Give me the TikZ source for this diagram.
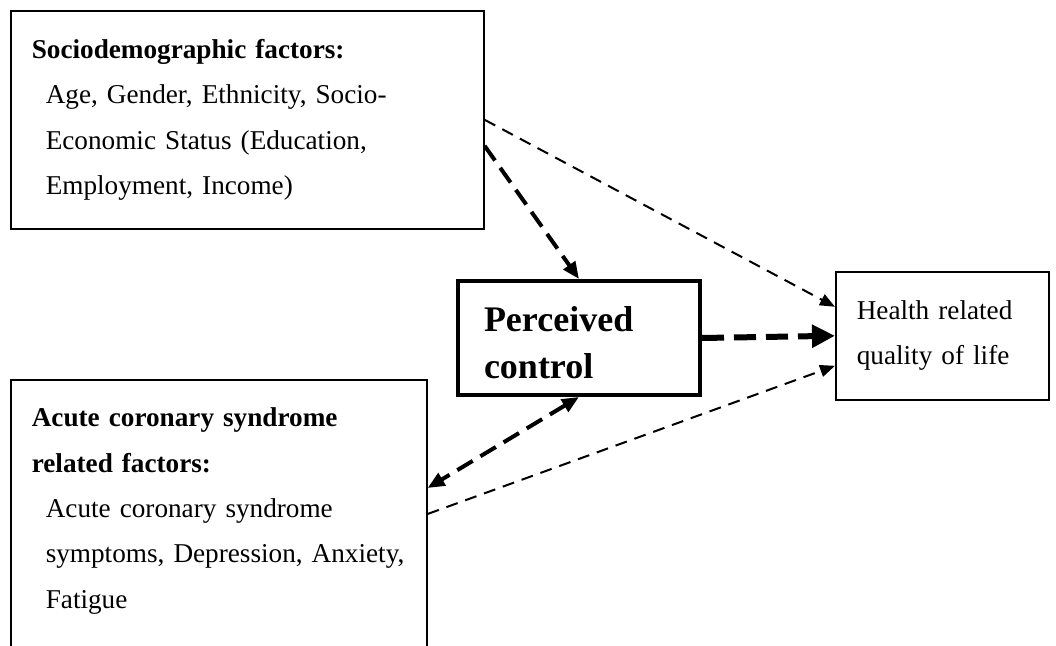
\documentclass[tikz,border=0pt]{standalone}
\usepackage{fontspec}
\setmainfont{Liberation Serif}
\usetikzlibrary{arrows.meta}

\newcommand{\pcline}[1]{\hspace*{7pt}\mbox{#1}}

\tikzset{
  pcbox/.style={draw, line width=.8pt, anchor=north west, align=left, inner xsep=10.5pt,
    font=\fontsize{13.6pt}{22.7pt}\selectfont},
  pcctrl/.style={draw, line width=2pt, anchor=north west, align=left, inner xsep=13pt,
    font=\fontsize{18pt}{23.5pt}\selectfont\bfseries},
  pcthin/.style={line width=1pt, dash pattern=on 6pt off 4pt, -{Triangle[length=7.5pt,width=6pt]}},
  pcmid/.style={line width=2pt, dash pattern=on 9pt off 4.5pt, -{Triangle[length=8.5pt,width=7pt]}},
  pcthick/.style={line width=3pt, dash pattern=on 11pt off 5pt, -{Triangle[length=11.5pt,width=11pt]}}
}

\begin{document}
\begin{tikzpicture}[x=.5pt, y=-.5pt]
\useasboundingbox (0,0) rectangle (1056,646);

\node[pcbox, text width=215.5pt, minimum height=109pt] (socio) at (10,10)
  {\textbf{Sociodemographic factors:}\\
   \pcline{Age, Gender, Ethnicity, Socio-}\\
   \pcline{Economic Status (Education,}\\
   \pcline{Employment, Income)}};

\node[pcctrl, text width=95pt, minimum height=57pt] (control) at (456,279)
  {\rule{0pt}{17pt}Perceived\\control};

\node[pcbox, text width=85.5pt, minimum height=64pt] (hrqol) at (835,271) {Health related\\quality of life};

\node[pcbox, text width=187pt, inner ysep=14pt] (acs) at (10,379)
  {\textbf{Acute coronary syndrome}\\
   \textbf{related factors:}\\
   \pcline{Acute coronary syndrome}\\
   \pcline{symptoms, Depression, Anxiety,}\\
   \pcline{Fatigue}\rule[-40pt]{0pt}{0pt}};

\draw[pcthin] (socio.east) -- ([yshift=14.5pt]hrqol.west);
\draw[pcmid] ([yshift=-13pt]socio.east) -- (control.north);
\draw[pcthick] (control.east) -- (hrqol.west);
\draw[pcmid, {Triangle[length=8.5pt,width=7pt]}-{Triangle[length=8.5pt,width=7pt]}] (control.south) -- ([yshift=-54.5pt]acs.north east);
\draw[pcthin] ([yshift=-67.5pt]acs.north east) -- ([yshift=-15pt]hrqol.west);
\end{tikzpicture}
\end{document}
